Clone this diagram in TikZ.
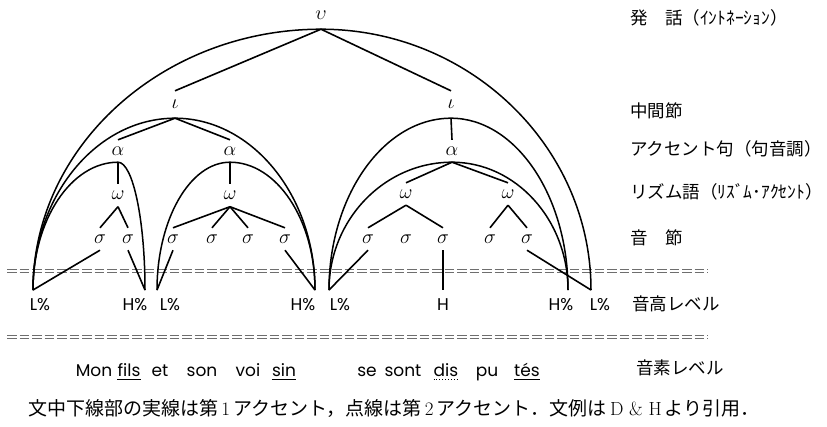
\documentclass[tikz,border=0pt]{standalone}
\usepackage{fix-cm}
\usepackage{fontspec}
\usepackage{tikz}
\usetikzlibrary{positioning,calc}
\newfontfamily\jp{Noto Sans CJK JP}
\newfontfamily\gothic{Poppins}
\definecolor{tiergray}{RGB}{110,110,110}

% bow from foot #1 over the apex #2 down to foot #3
\newcommand{\bowarc}[3]{%
  \draw[bow] (#1) .. controls ($(#1)!0.55!(#1|-#2)$) and ($(#2)!0.55!(#1|-#2)$) .. (#2)
    .. controls ($(#2)!0.55!(#2-|#3)$) and ($(#3)!0.55!(#2-|#3)$) .. (#3);}

\begin{document}
\begin{tikzpicture}[x=1pt, y=-1pt,
  every node/.style={inner sep=0pt},
  unit/.style={minimum height=22pt, font=\fontsize{20}{22}\selectfont},
  tall/.style={unit, minimum height=27pt},
  tone/.style={minimum height=30pt, font=\gothic\fontsize{17}{20}\selectfont},
  word/.style={anchor=base, font=\gothic\fontsize{17}{20}\selectfont},
  level/.style={anchor=west, font=\jp\fontsize{17.5}{20}\selectfont},
  branch/.style={line width=1.6pt},
  bow/.style={line width=1.5pt},
  tier/.style={tiergray, line width=0.8pt, dash pattern=on 9.5pt off 3pt},
  uline/.style={line width=0.9pt}]
\useasboundingbox (0,0) rectangle (827,426);

% tiers
\draw[tier] (7,269) -- (708,269);
\draw[tier] (7,272.5) -- (708,272.5);
\draw[tier] (7,335) -- (708,335);
\draw[tier] (7,338.5) -- (708,338.5);

% utterance
\node[unit, minimum height=28pt] (u) at (321,15) {$\upsilon$};

% intermediate phrases
\node[tall] (i1) at (175,104.5) {$\iota$};
\node[tall] (i2) at (451,104.5) {$\iota$};

% accentual phrases
\node[unit] (a1) at (118,151) {$\alpha$};
\node[unit] (a2) at (230,151) {$\alpha$};
\node[unit] (a3) at (452,151) {$\alpha$};

% rhythmic units
\node[unit] (w1) at (118,195.5) {$\omega$};
\node[unit] (w2) at (230,195.5) {$\omega$};
\node[unit] (w3) at (406,194) {$\omega$};
\node[unit] (w4) at (508,194) {$\omega$};

% syllables
\foreach \x [count=\n] in {100,128,173,212,248,285,368,406,443,490,527}
  \node[unit] (s\n) at (\x,239) {$\sigma$};

% tones
\node[tone] (L1) at (40,305) {L\%};
\node[tone] (H1) at (135,305) {H\%};
\node[tone] (L2) at (170,305) {L\%};
\node[tone] (H2) at (303,305) {H\%};
\node[tone] (L3) at (340,305) {L\%};
\node[tone] (Hm) at (443,305) {H};
\node[tone] (H3) at (561,305) {H\%};
\node[tone] (L4) at (600,305) {L\%};
\coordinate (l1) at (33,290);
\coordinate (h1) at (145,290);
\coordinate (l2) at (157,290);
\coordinate (h2) at (315,290);
\coordinate (l3) at (329,290);
\coordinate (h3) at (568,290);
\coordinate (l4) at (591,290);

% tree
\draw[branch] (u.south) -- (i1.north);
\draw[branch] (u.south) -- (i2.north);
\draw[branch] (i1.south) -- (a1.north);
\draw[branch] (i1.south) -- (a2.north);
\draw[branch] (i2.south) -- (a3.north);
\draw[branch] (a1.south) -- (w1.north);
\draw[branch] (a2.south) -- (w2.north);
\draw[branch] (a3.south) -- (w3.north);
\draw[branch] (a3.south) -- (w4.north);
\foreach \p/\c in {w1/s1, w1/s2, w2/s3, w2/s4, w2/s5, w2/s6, w3/s7, w3/s9, w4/s10, w4/s11}
  \draw[branch] (\p.south) -- (\c.north);
\foreach \s/\t in {s1/l1, s2/h1, s3/l2, s6/h2, s7/l3, s9/Hm.north, s11/l4}
  \draw[branch] (\s.south) -- (\t);

% domains
\bowarc{l1}{u.south}{l4}
\bowarc{l1}{i1.south}{h2}
\bowarc{l3}{i2.south}{h3}
\bowarc{l1}{a1.south}{h1}
\bowarc{l2}{a2.south}{h2}
\bowarc{l3}{a3.south}{h3}

% segments
\foreach \x/\w/\n in {94/Mon/mon, 129/fils/fils, 160/et/et, 202/son/son, 248/voi/voi, 284/sin/sin,
  367/se/se, 403/sont/sont, 446/dis/dis, 487/pu/pu, 527/tés/tes}
  \node[word] (\n) at (\x,376) {\w};
\foreach \n in {fils, sin, tes}
  \draw[uline] ([yshift=-3.5pt]\n.base west) -- ([yshift=-3.5pt]\n.base east);
\draw[uline, dotted] ([yshift=-3.5pt]dis.base west) -- ([yshift=-3.5pt]dis.base east);

% level names
\node[level] (utt) at (630,18) {発　話（ｲﾝﾄﾈｰｼｮﾝ）};
\node[level] (mid) at (630,111) {中間節};
\node[level] (acc) at (630,149) {アクセント句（句音調）};
\node[level] (rhy) at (630,192) {リズム語（ﾘｽﾞﾑ･ｱｸｾﾝﾄ）};
\node[level] (syl) at (630,238) {音　節};
\node[level] (pit) at (632,304) {音高レベル};
\node[level] (phn) at (636,368) {音素レベル};

% note
\node[anchor=west, font=\fontsize{19}{22}\selectfont] (note) at (28,408)
  {{\jp 文中下線部の実線は第}\,1\,{\jp アクセント，点線は第}\,2\,{\jp アクセント．文例は}\,D\ \&\ H\,{\jp より引用．}};
\end{tikzpicture}
\end{document}
